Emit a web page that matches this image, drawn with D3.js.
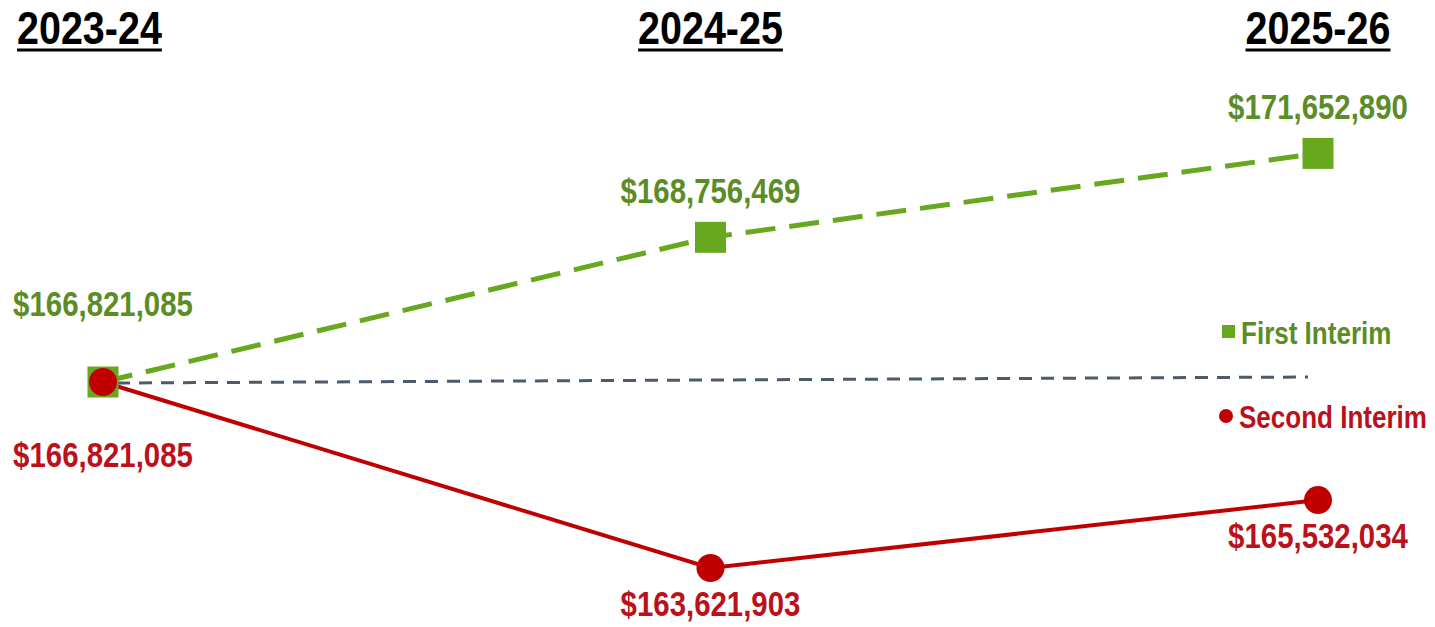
<!DOCTYPE html>
<html>
<head>
<meta charset="utf-8">
<script src="https://cdn.jsdelivr.net/npm/d3@7"></script>
<style>
  body { margin: 0; background: #fff; }
  svg { display: block; font-family: "Liberation Sans", Arial, sans-serif; font-weight: bold; }
</style>
</head>
<body>
<div id="chart"></div>
<script>
const years = ['2023-24', '2024-25', '2025-26'];
const firstInterim = [166821085, 168756469, 171652890];
const secondInterim = [166821085, 163621903, 165532034];
const seriesNames = ['First Interim', 'Second Interim'];

const width = 1435, height = 627;
const base = firstInterim[0];
const narrow = 0.84; // squeeze Liberation Sans to look like Arial Narrow

const green = '#67a81e', greenText = '#5b8c26';
const red = '#c00000', redText = '#bb111a';

const x = d3.scalePoint().domain(years).range([103, 1318]);
// change from the 2023-24 base, square-root spaced
const y = d3.scaleSqrt().domain([0, 1e6]).range([382, 278]);
const yv = v => y(v - base);

const fmt = v => '$' + d3.format(',')(v);

function place(sel, fx, fy) {
  sel.attr('transform', (d, i) => 'translate(' + fx(d, i) + ',' + fy(d, i) + ') scale(' + narrow + ',1)');
}

const svg = d3.select('#chart').append('svg')
    .attr('width', width)
    .attr('height', height);

// year headers, first one pushed to the left margin
const heads = svg.selectAll('.head')
    .data(years)
  .enter().append('g')
    .attr('class', 'head');
heads.each(function(d, i) {
  const g = d3.select(this);
  const t = g.append('text')
      .attr('text-anchor', i === 0 ? 'start' : 'middle')
      .style('font-size', '47px')
      .attr('fill', '#000')
      .text(d);
  const w = t.node().getComputedTextLength() * narrow;
  const x0 = i === 0 ? 17 : x(d) - w / 2;
  const tx = i === 0 ? 17 : x(d);
  t.attr('transform', 'translate(' + tx + ',44) scale(' + narrow + ',1)');
  g.append('line')
      .attr('x1', x0).attr('x2', x0 + w)
      .attr('y1', 50).attr('y2', 50)
      .attr('stroke', '#000').attr('stroke-width', 3);
});

// baseline
svg.append('line')
    .attr('x1', x(years[0]) + 14).attr('x2', x(years[2]) - 10)
    .attr('y1', yv(base) + 1).attr('y2', yv(base) - 5)
    .attr('stroke', '#4b5b6b')
    .attr('stroke-width', 3)
    .attr('stroke-dasharray', '13,9');

const line = d3.line()
    .x((d, i) => x(years[i]))
    .y(d => yv(d));

svg.append('path')
    .datum(firstInterim)
    .attr('d', line)
    .attr('fill', 'none')
    .attr('stroke', green)
    .attr('stroke-width', 5)
    .attr('stroke-dasharray', '30,14');

svg.append('path')
    .datum(secondInterim)
    .attr('d', line)
    .attr('fill', 'none')
    .attr('stroke', red)
    .attr('stroke-width', 4);

svg.selectAll('.sq')
    .data(firstInterim)
  .enter().append('rect')
    .attr('x', (d, i) => x(years[i]) - 15.5)
    .attr('y', d => yv(d) - 15.5)
    .attr('width', 31).attr('height', 31)
    .attr('fill', green);

svg.selectAll('.dot')
    .data(secondInterim)
  .enter().append('circle')
    .attr('cx', (d, i) => x(years[i]))
    .attr('cy', d => yv(d))
    .attr('r', 14)
    .attr('fill', red);

// value labels
svg.selectAll('.glab')
    .data(firstInterim)
  .enter().append('text')
    .attr('text-anchor', 'middle')
    .style('font-size', '35px')
    .attr('fill', greenText)
    .text(fmt)
    .call(place, (d, i) => x(years[i]), (d, i) => yv(d) - (i === 0 ? 66 : 34));

svg.selectAll('.rlab')
    .data(secondInterim)
  .enter().append('text')
    .attr('text-anchor', 'middle')
    .style('font-size', '35px')
    .attr('fill', redText)
    .text(fmt)
    .call(place, (d, i) => x(years[i]), (d, i) => yv(d) + (i === 0 ? 85 : 48));

// legend
const lx = x(years[2]) - 96;
const lg = svg.append('g');
lg.append('rect')
    .attr('x', lx).attr('y', yv(base) - 57)
    .attr('width', 13).attr('height', 13)
    .attr('fill', green);
lg.append('text')
    .style('font-size', '31px')
    .attr('fill', greenText)
    .text(seriesNames[0])
    .call(place, () => lx + 19, () => yv(base) - 38);
lg.append('circle')
    .attr('cx', lx + 4).attr('cy', yv(base) + 34)
    .attr('r', 7)
    .attr('fill', red);
lg.append('text')
    .style('font-size', '31px')
    .attr('fill', redText)
    .text(seriesNames[1])
    .call(place, () => lx + 17, () => yv(base) + 46);
</script>
</body>
</html>
